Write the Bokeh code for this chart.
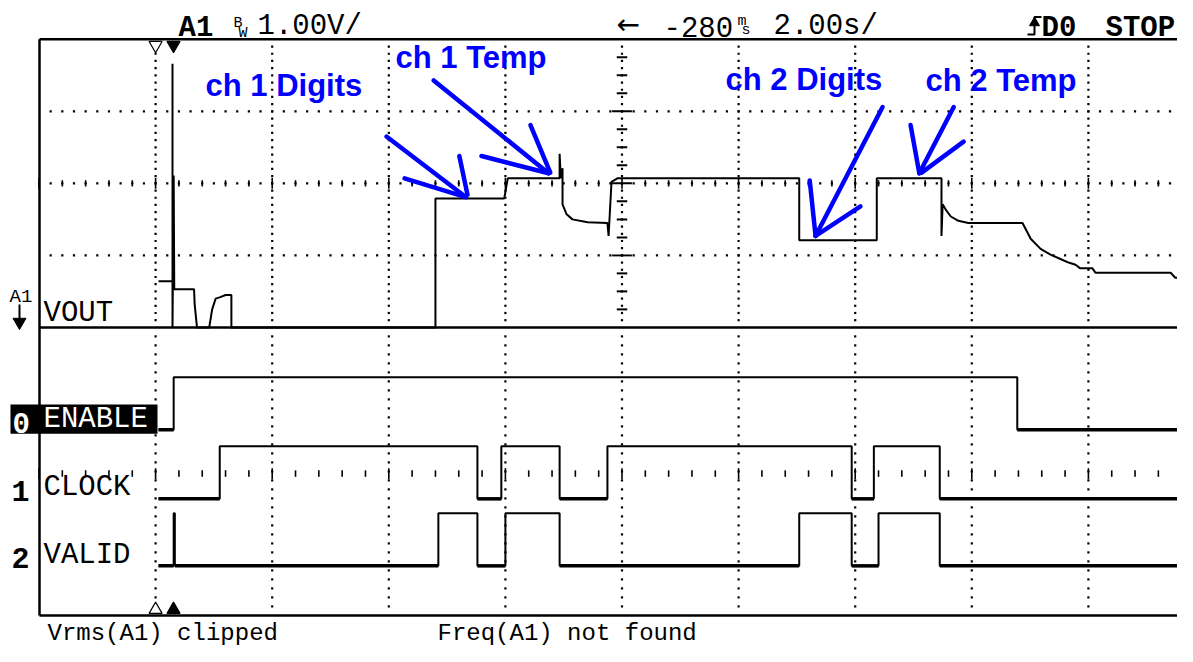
import numpy as np
from bokeh.plotting import figure
from bokeh.models import Range1d
from bokeh.core.properties import value
from bokeh.embed import file_html
from bokeh.resources import INLINE

# ---------------- data (time in s, VOUT in V, logic states 0/1) ----------------
vout_t = [-7.95, -7.71, -7.71, -7.71, -7.69, -7.68, -7.34, -7.33, -7.29, -7.08, -7.03,
          -6.97, -6.89, -6.80, -6.70, -6.70, -3.20, -3.20, -2.02, -2.00, -1.96, -1.07,
          -1.07, -1.05, -1.02, -1.02, -0.95, -0.85, -0.59, -0.25, -0.23, -0.18, -0.08,
          3.04, 3.04, 4.37, 4.37, 5.48, 5.48, 5.50, 5.55, 5.64, 5.77, 5.94, 6.87, 7.01,
          7.18, 7.35, 7.52, 7.66, 7.78, 7.86, 8.07, 8.12, 9.41, 9.49, 9.80]
vout_v = [0.64, 0.64, 3.66, 0.00, 2.11, 0.53, 0.53, 0.32, 0.00, 0.00, 0.25,
          0.40, 0.42, 0.45, 0.45, 0.00, 0.00, 1.79, 1.79, 1.88, 2.07, 2.07,
          2.41, 2.07, 2.21, 1.71, 1.57, 1.50, 1.46, 1.45, 1.27, 2.02, 2.07,
          2.07, 1.21, 1.21, 2.07, 2.07, 1.27, 1.71, 1.64, 1.54, 1.48, 1.45, 1.45, 1.23,
          1.09, 1.01, 0.95, 0.90, 0.87, 0.82, 0.82, 0.76, 0.76, 0.69, 0.69]

enable_t = [-7.95, -7.69, 6.78, 9.80]
enable_s = [0, 1, 0, 0]
clock_t = [-7.95, -6.90, -2.48, -2.07, -1.07, -0.25, 3.94, 4.32, 5.45, 9.80]
clock_s = [0, 1, 0, 1, 0, 1, 0, 1, 0, 0]
valid_t = [-7.95, -7.69, -7.67, -3.15, -2.48, -2.00, -1.07, 3.04, 3.94, 4.40, 5.45, 9.80]
valid_s = [0, 1, 0, 1, 0, 1, 0, 1, 0, 1, 0, 0]

channel_names = ["ENABLE", "CLOCK", "VALID"]
channel_nums = ["0", "1", "2"]

# hand-drawn annotation strokes (t0, V0) -> (t1, V1)
note_labels = ["ch 1 Digits", "ch 1 Temp", "ch 2 Digits", "ch 2 Temp"]
stroke_t0 = [-4.04, -3.73, -2.79, -3.23, -2.41, -1.57, 3.22, 4.47, 4.09, 4.95, 5.69, 5.86]
stroke_v0 = [2.65, 2.07, 2.38, 3.43, 2.38, 2.81, 2.04, 3.06, 1.68, 2.81, 3.06, 2.58]
stroke_t1 = [-2.68, -2.68, -2.65, -1.26, -1.26, -1.23, 3.32, 3.32, 3.32, 5.10, 5.10, 5.14]
stroke_v1 = [1.81, 1.81, 1.84, 2.14, 2.14, 2.15, 1.27, 1.27, 1.27, 2.14, 2.14, 2.15]

header_texts = ["1.00V/", "-280", "2.00s/"]
footer_texts = ["Vrms(A1) clipped", "Freq(A1) not found"]

# ---------------- layout helpers (reference pixel -> data units) ----------------
PX_S = 58.3        # px per second (2 s / div, 116.6 px / div)
PX_DIV = 74.125    # px per vertical division (reference)
T0_PX = 621.5
Y0_PX = 633.0
W, H = 1177, 646
REF_BOTTOM = 665.0
SCALE_Y = H / REF_BOTTOM
def tx(px): return (px - T0_PX) / PX_S
def ty(py): return (Y0_PX - py) / PX_DIV
def tb(py, size):
    # text baseline position, compensating the renderer's descent offset
    return ty(py - 0.24 * size / SCALE_Y)

VOUT_OFS = 4.0     # analog ground on the separator line
DIG_BASE = [ty(442), ty(513), ty(582)]
DIG_H = 0.73

p = figure(width=W, height=H, title=None,
           x_range=Range1d(tx(0), tx(W)), y_range=Range1d(ty(REF_BOTTOM), ty(0)),
           output_backend="svg", toolbar_location=None,
           x_axis_location=None, y_axis_location=None, min_border=0,
           outline_line_color=None)
p.grid.grid_line_color = None
p.background_fill_color = "white"
p.border_fill_color = "white"

LEFT = tx(39)
RIGHT = tx(1200)
MONO = value("Liberation Mono")

# ---------------- graticule ----------------
grid_t = np.arange(-8, 8.01, 2.0)
ana_y = np.arange(4.1, 7.95, 0.1)
dig_y = np.arange(0.125, 3.95, 0.125)
gx = np.concatenate([np.repeat(grid_t, len(ana_y)), np.repeat(grid_t, len(dig_y))])
gy = np.concatenate([np.tile(ana_y, len(grid_t)), np.tile(dig_y, len(grid_t))])
p.scatter(gx, gy, marker="square", size=2.2, fill_color="black", line_color=None)

row_t = np.arange(-9.8, 9.75, 0.2)
rows = [5.0, 6.0, 7.0]
p.scatter(np.tile(row_t, 3), np.repeat(rows, len(row_t)), marker="square", size=2.2,
          fill_color="black", line_color=None)

# tick marks on the analog centre row and the digital tick row
tick_t = np.arange(-10.0, 9.75, 0.4)
rem = np.mod(tick_t + 10, 2.0)
is_major = np.isclose(rem, 0) | np.isclose(rem, 2.0)
for yc in (6.0, ty(487)):
    h = np.where(is_major, 0.075, 0.045)
    p.segment(tick_t, yc - h, tick_t, yc + h, line_color="black", line_width=1.6)

# centre vertical ticks (analog area)
cy = np.arange(4.25, 7.9, 0.25)
cmaj = np.isclose(cy % 1.0, 0)
cw = np.where(cmaj, 0.17, 0.09)
p.segment(-cw, cy, cw, cy, line_color="black", line_width=2)

# frame borders and separator
p.segment([LEFT, LEFT, LEFT, LEFT], [0, 8, 0, 4.0], [LEFT, RIGHT, RIGHT, RIGHT], [8, 8, 0, 4.0],
          line_color="black", line_width=2.5)

# time reference markers
mk_t = [-8.0, tx(173)]
p.scatter(mk_t, [ty(46)] * 2, marker="inverted_triangle", size=13,
          fill_color=["white", "black"], line_color="black", line_width=1.2)
p.scatter(mk_t, [ty(627)] * 2, marker="triangle", size=13,
          fill_color=["white", "black"], line_color="black", line_width=1.2)

# ---------------- traces ----------------
p.line(vout_t, np.array(vout_v) + VOUT_OFS, line_color="black", line_width=2)

for ts, ss, base in zip([enable_t, clock_t, valid_t], [enable_s, clock_s, valid_s], DIG_BASE):
    ys = [base + s * DIG_H for s in ss]
    p.step(ts, ys, mode="after", line_color="black", line_width=2)
    lo0 = [ts[i] for i in range(len(ts) - 1) if ss[i] == 0]
    lo1 = [ts[i + 1] for i in range(len(ts) - 1) if ss[i] == 0]
    p.segment(lo0, [base] * len(lo0), lo1, [base] * len(lo0), line_color="black", line_width=3.5)

# ---------------- blue hand annotations ----------------
p.segment(stroke_t0, np.array(stroke_v0) + VOUT_OFS, stroke_t1, np.array(stroke_v1) + VOUT_OFS,
          line_color="#0000FF", line_width=4.5, line_cap="round")
p.text([tx(205), tx(395), tx(725), tx(925)],
       [tb(95, 31), tb(66, 31), tb(89, 31), tb(90, 31)], text=note_labels,
       text_font=value("Liberation Sans"), text_font_style="bold", text_font_size="31px",
       text_color="#0000FF", text_baseline="alphabetic")

# ---------------- scope texts ----------------
# header
p.text([tx(178)], [tb(36, 29)], text=["A1"], text_font=MONO, text_font_style="bold",
       text_font_size="29px", text_baseline="alphabetic")
p.text([tx(257), tx(663), tx(773)], [tb(34, 29)] * 3, text=header_texts, text_font=MONO,
       text_font_size="29px", text_baseline="alphabetic")
p.text([tx(233), tx(238), tx(737), tx(741)], [tb(27, 15), tb(38, 15), tb(25, 15), tb(35, 15)],
       text=["B", "W", "m", "s"], text_font=MONO, text_font_size="15px",
       text_baseline="alphabetic")
p.text([tx(616)], [tb(32, 28)], text=["\u2190"], text_font=value("DejaVu Sans"),
       text_font_size="28px", text_baseline="alphabetic")
p.text([tx(1041), tx(1105)], [tb(36, 29)] * 2, text=["D0", "STOP"], text_font=MONO,
       text_font_style="bold", text_font_size="29px", text_baseline="alphabetic")
# rising-edge trigger symbol
p.line([tx(1027), tx(1034), tx(1034), tx(1041)], [ty(35), ty(35), ty(17), ty(17)],
       line_color="black", line_width=2)
p.scatter([tx(1034)], [ty(23)], marker="triangle", size=10, fill_color="black", line_color="black")

# footer (kept clear of the page edge)
p.text([tx(47), tx(437)], [ty(651.3)] * 2, text=footer_texts, text_font=MONO,
       text_font_size="24px", text_baseline="alphabetic")

# analog channel label + ground arrow
p.text([tx(43)], [tb(329, 29)], text=["VOUT"], text_font=MONO, text_font_size="29px",
       text_baseline="alphabetic")
p.text([tx(9)], [tb(310, 19)], text=["A1"], text_font=MONO, text_font_size="19px",
       text_baseline="alphabetic")
p.segment([tx(19)], [ty(313)], [tx(19)], [ty(328)], line_color="black", line_width=2)
p.scatter([tx(19)], [ty(331)], marker="inverted_triangle", size=13,
          fill_color="black", line_color="black")

# digital labels
p.quad(left=[tx(10)], right=[tx(157)], top=[ty(416)], bottom=[ty(446)],
       fill_color="black", line_color=None)
p.text([tx(12)], [tb(442, 29)], text=[channel_nums[0]], text_font=MONO, text_font_style="bold",
       text_font_size="29px", text_color="white", text_baseline="alphabetic")
p.text([tx(43)], [tb(439, 29)], text=[channel_names[0]], text_font=MONO, text_font_size="29px",
       text_color="white", text_baseline="alphabetic")
p.text([tx(11), tx(11)], [tb(512, 30), tb(581, 30)], text=channel_nums[1:], text_font=MONO,
       text_font_style="bold", text_font_size="30px", text_baseline="alphabetic")
p.text([tx(43), tx(43)], [tb(508, 29), tb(579, 29)], text=channel_names[1:], text_font=MONO,
       text_font_size="29px", text_baseline="alphabetic")

open("out.html", "w").write(file_html(p, INLINE))
